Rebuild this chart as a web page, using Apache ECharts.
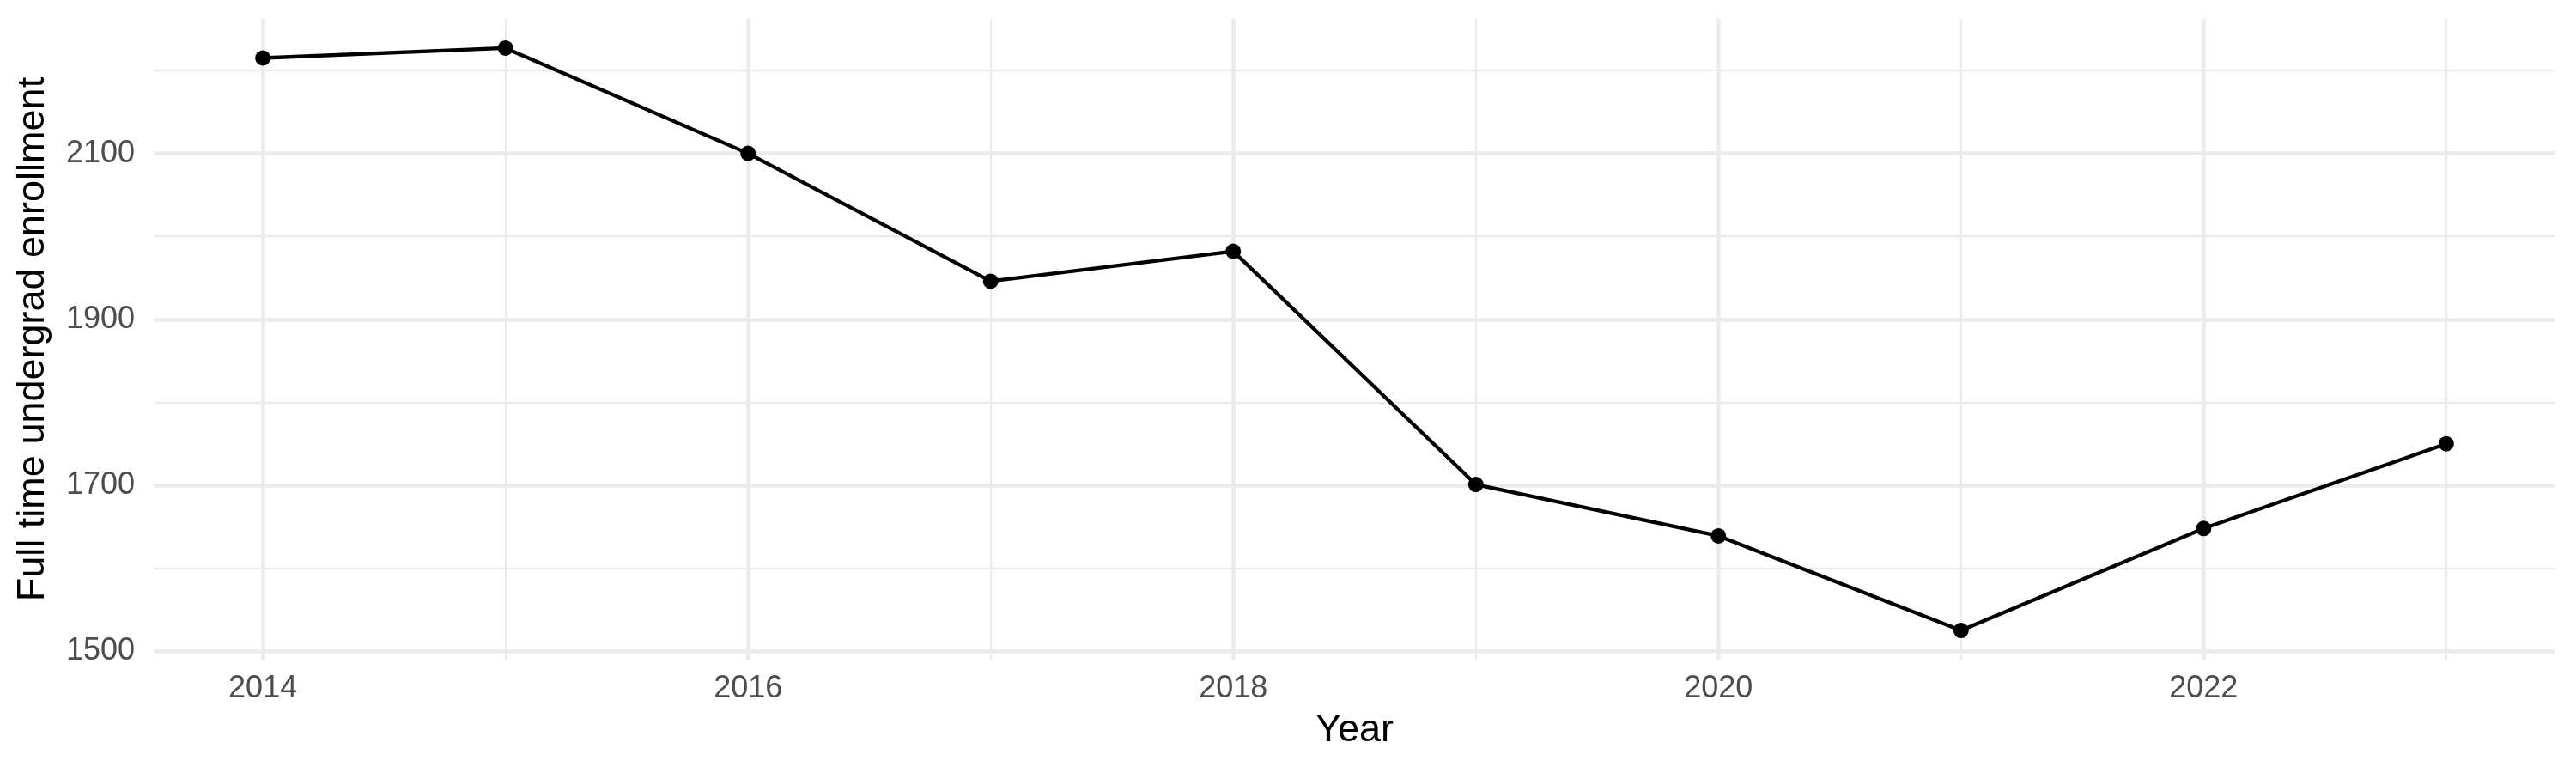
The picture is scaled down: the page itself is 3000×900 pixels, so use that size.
<!DOCTYPE html>
<html>
<head>
<meta charset="utf-8">
<script src="https://cdn.jsdelivr.net/npm/echarts@6/dist/echarts.min.js"></script>
<style>
  html, body { margin: 0; padding: 0; background: #ffffff; }
  #chart { width: 3000px; height: 900px; }
</style>
</head>
<body>
<div id="chart"></div>
<script>
// ---- data ----
const years = [2014, 2015, 2016, 2017, 2018, 2019, 2020, 2021, 2022, 2023];
const enrollment = [2215, 2227, 2100, 1946, 1982, 1701, 1639, 1525, 1648, 1750];

// ---- tick values ----
const xMajorTicks = [2014, 2016, 2018, 2020, 2022];
const xMinorTicks = [2015, 2017, 2019, 2021, 2023];
const yMajorTicks = [1500, 1700, 1900, 2100];
const yMinorTicks = [1600, 1800, 2000, 2200];

// ggplot-style 5% expansion of the data range
const xSpan = Math.max(...years) - Math.min(...years);
const xMin = Math.min(...years) - 0.05 * xSpan;
const xMax = Math.max(...years) + 0.05 * xSpan;
const ySpan = Math.max(...enrollment) - Math.min(...enrollment);
const yMin = Math.min(...enrollment) - 0.05 * ySpan;
const yMax = Math.max(...enrollment) + 0.05 * ySpan;

const FONT = '"Liberation Sans", Arial, Helvetica, sans-serif';
const GRID_COLOR = '#ebebeb';

const chart = echarts.init(document.getElementById('chart'), null, { renderer: 'canvas' });

const option = {
  animation: false,
  backgroundColor: '#ffffff',
  grid: { left: 179, right: 24, top: 22, bottom: 132, containLabel: false },
  xAxis: [
    {
      type: 'value',
      min: xMin,
      max: xMax,
      name: 'Year',
      nameLocation: 'middle',
      nameGap: 83,
      nameTextStyle: { fontFamily: FONT, fontSize: 45, color: '#000000', verticalAlign: 'middle' },
      axisLine: { show: false },
      axisTick: { show: false, customValues: xMajorTicks },
      axisLabel: {
        customValues: xMajorTicks,
        fontFamily: FONT, fontSize: 36, color: '#4d4d4d',
        margin: 34, verticalAlign: 'middle',
        formatter: v => String(v)
      },
      splitLine: { show: true, lineStyle: { color: GRID_COLOR, width: 4.5 } }
    },
    {
      type: 'value',
      min: xMin,
      max: xMax,
      position: 'bottom',
      axisLine: { show: false },
      axisTick: { show: false, customValues: xMinorTicks },
      axisLabel: { show: false, customValues: xMinorTicks },
      splitLine: { show: true, lineStyle: { color: GRID_COLOR, width: 2.3 } }
    }
  ],
  yAxis: [
    {
      type: 'value',
      min: yMin,
      max: yMax,
      position: 'left',
      name: 'Full time undergrad enrollment',
      nameLocation: 'middle',
      nameGap: 140,
      nameTextStyle: { fontFamily: FONT, fontSize: 45, color: '#000000', verticalAlign: 'middle' },
      axisLine: { show: false },
      axisTick: { show: false, customValues: yMajorTicks },
      axisLabel: {
        customValues: yMajorTicks,
        fontFamily: FONT, fontSize: 36, color: '#4d4d4d',
        margin: 22,
        formatter: v => String(v)
      },
      splitLine: { show: true, lineStyle: { color: GRID_COLOR, width: 4.5 } }
    },
    {
      type: 'value',
      min: yMin,
      max: yMax,
      position: 'left',
      offset: 0,
      axisLine: { show: false },
      axisTick: { show: false, customValues: yMinorTicks },
      axisLabel: { show: false, customValues: yMinorTicks },
      splitLine: { show: true, lineStyle: { color: GRID_COLOR, width: 2.3 } }
    }
  ],
  series: [
    {
      type: 'line',
      xAxisIndex: 0,
      yAxisIndex: 0,
      data: years.map((y, i) => [y, enrollment[i]]),
      symbol: 'circle',
      symbolSize: 18,
      showSymbol: true,
      clip: false,
      itemStyle: { color: '#000000' },
      lineStyle: { color: '#000000', width: 4.3 },
      z: 10
    }
  ]
};

chart.setOption(option);
</script>
</body>
</html>
